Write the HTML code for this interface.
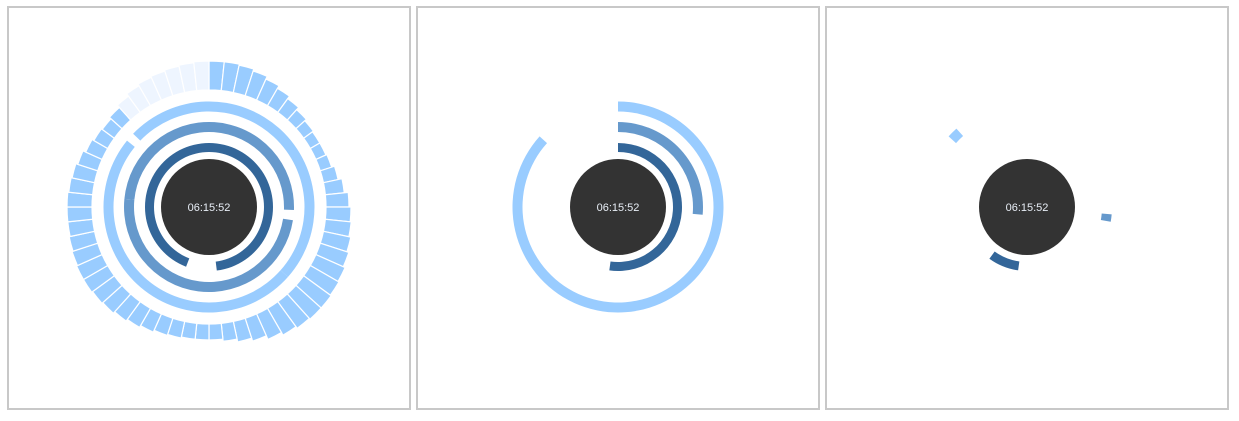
<!DOCTYPE html>
<html><head><meta charset="utf-8"><style>
body{margin:0;background:#fff;width:1239px;height:421px;overflow:hidden}
svg{display:block}
</style></head><body>
<svg id="s" width="1239" height="421" xmlns="http://www.w3.org/2000/svg">
<rect x="8" y="7" width="402" height="402" fill="#fff" stroke="#c8c8c8" stroke-width="2"/>
<rect x="417" y="7" width="402" height="402" fill="#fff" stroke="#c8c8c8" stroke-width="2"/>
<rect x="826" y="7" width="402" height="402" fill="#fff" stroke="#c8c8c8" stroke-width="2"/>
</svg>
<script>
const timeLabel = "06:15:52";
const hours = 6.26, minutes = 15.87, seconds = 52;
// outer radius of each second segment (panel 1)
const segOuter = [146,146,145,143,140,137,134,131,129,128,128,129,132,136,140,142,143,145,147,149,150,151,151,150,148,145,141,138,135,133,133,133,134,135,137,139,141,143,144,145,145,144,143,142,142,142,141,140,138,135,133,132,134,137,140,142,143,144,145,146];
// panel 1 arcs [start, end] degrees
const p1Arcs = [[201,533],[99,452],[314,669]];
// panel 3 markers [start,end] degrees
const p3Marks = [[188,216],[95,100],[312,318]];

const svg = document.getElementById('s');
const NS = 'http://www.w3.org/2000/svg';
const colors = ['#336699','#6699cc','#99ccff'];
const radii = [59.5,80,100.5], widths = [9,10,10];
function pt(cx,cy,r,a){const t=(a-90)*Math.PI/180;return [cx+r*Math.cos(t),cy+r*Math.sin(t)];}
function sector(cx,cy,r0,r1,a0,a1){
  const large=(a1-a0)>180?1:0;
  const p1=pt(cx,cy,r1,a0),p2=pt(cx,cy,r1,a1),p3=pt(cx,cy,r0,a1),p4=pt(cx,cy,r0,a0);
  return `M${p1}A${r1},${r1} 0 ${large} 1 ${p2}L${p3}A${r0},${r0} 0 ${large} 0 ${p4}Z`;
}
function arc(cx,cy,i,a0,a1,name){
  const r=radii[i],w=widths[i];
  let parts=[];
  if(a1-a0>350){const m=(a0+a1)/2;parts=[[a0,m],[m,a1]];}else parts=[[a0,a1]];
  parts.forEach(p=>{
    const el=document.createElementNS(NS,'path');
    el.setAttribute('d',sector(cx,cy,r-w/2,r+w/2,p[0],p[1]));
    el.setAttribute('fill',colors[i]);
    
    
    svg.appendChild(el);
  });
}
function center(cx,cy){
  const c=document.createElementNS(NS,'circle');
  c.setAttribute('cx',cx);c.setAttribute('cy',cy);c.setAttribute('r',48);c.setAttribute('fill','#333');
  
  
  svg.appendChild(c);
  const t=document.createElementNS(NS,'text');
  t.setAttribute('x',cx);t.setAttribute('y',cy+4);t.setAttribute('text-anchor','middle');
  t.setAttribute('font-family','Liberation Sans, sans-serif');t.setAttribute('font-size','11');t.setAttribute('fill','#e8eef6');
  t.textContent=timeLabel;
  
  
  svg.appendChild(t);
}
const names=['hour','minute','second'];
// panel 1
const c1=[209,207];
segOuter.forEach((R,i)=>{
  const el=document.createElementNS(NS,'path');
  el.setAttribute('d',sector(c1[0],c1[1],117,R,i*6,i*6+6));
  el.setAttribute('fill',i<=seconds?'#99ccff':'#eef5ff');
  el.setAttribute('stroke','#fff');
  el.setAttribute('stroke-width','1.2');
  
  
  svg.appendChild(el);
});
p1Arcs.forEach((a,i)=>arc(c1[0],c1[1],i,a[0],a[1],names[i]+'-ring'));
center(c1[0],c1[1]);
// panel 2
const c2=[618,207];
const vals=[hours/12*360,minutes/60*360,seconds/60*360];
vals.forEach((v,i)=>arc(c2[0],c2[1],i,0,v,names[i]+'-arc'));
center(c2[0],c2[1]);
// panel 3
const c3=[1027,207];
p3Marks.forEach((a,i)=>arc(c3[0],c3[1],i,a[0],a[1],names[i]+'-marker'));
center(c3[0],c3[1]);
</script>
</body></html>
